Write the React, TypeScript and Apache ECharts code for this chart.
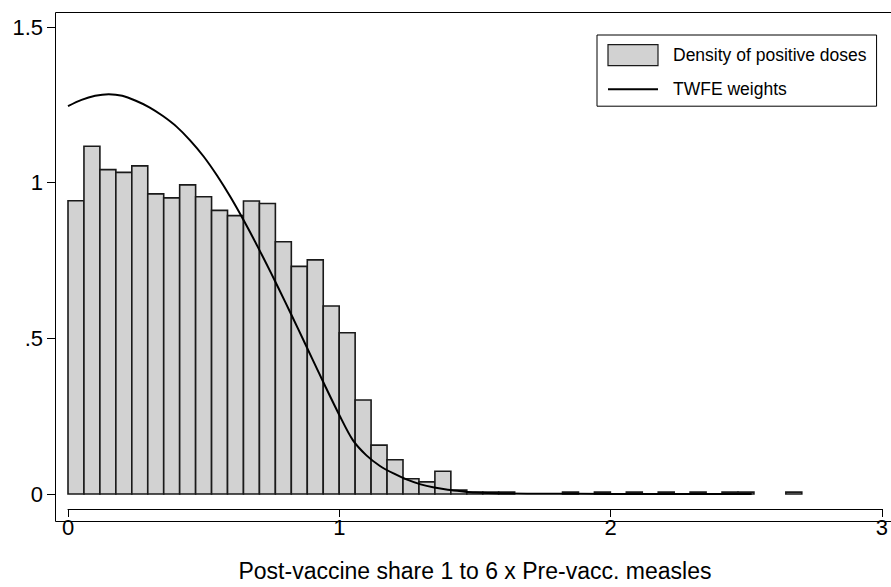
import React, { useEffect, useRef } from "react";
import * as echarts from "echarts";

// Histogram: bin width and densities (bin i covers [i*BIN_WIDTH, (i+1)*BIN_WIDTH])
const BIN_WIDTH = 0.0588;
const DENSITIES: (number | null)[] = [
  0.942, 1.117, 1.042, 1.033, 1.054, 0.964, 0.951, 0.993, 0.955, 0.911,
  0.894, 0.941, 0.933, 0.81, 0.731, 0.752, 0.604, 0.518, 0.302, 0.157,
  0.11, 0.049, 0.039, 0.073, 0.0125, 0.006, 0.006, 0.006, null, null,
  null, 0.006, null, 0.006, null, 0.006, null, 0.006, null, 0.006,
  null, 0.006, 0.006, null, null, 0.006,
];

// TWFE weights curve
const CURVE_X = [
  0.0, 0.05, 0.1, 0.15, 0.2, 0.25, 0.3, 0.35, 0.4, 0.45, 0.5, 0.55, 0.6,
  0.65, 0.7, 0.75, 0.8, 0.85, 0.9, 0.95, 1.0, 1.05, 1.1, 1.15, 1.2, 1.25,
  1.3, 1.35, 1.4, 1.45, 1.5, 1.6, 1.75, 2.0, 2.25, 2.52,
];
const CURVE_Y = [
  1.246, 1.266, 1.279, 1.284, 1.279, 1.263, 1.242, 1.214, 1.18, 1.136, 1.084,
  1.022, 0.952, 0.875, 0.793, 0.707, 0.618, 0.527, 0.435, 0.343, 0.254, 0.173,
  0.124, 0.09, 0.066, 0.046, 0.031, 0.021, 0.014, 0.009, 0.005, 0.002,
  0.001, 0.0003, 0.0001, 0.0,
];

const X_TICKS = [0, 1, 2, 3];
const Y_TICK_LABELS: Record<string, string> = { "0": "0", "0.5": ".5", "1": "1", "1.5": "1.5" };

const FONT = "'Liberation Sans', Arial, Helvetica, sans-serif";
const BAR_FILL = "#d2d2d2";
const BAR_STROKE = "#1a1a1a";

export default function App() {
  const ref = useRef<HTMLDivElement>(null);

  useEffect(() => {
    if (!ref.current) return;
    const chart = echarts.init(ref.current, undefined, { renderer: "svg" });

    const histData = DENSITIES.map((d, i) =>
      d === null ? null : [i * BIN_WIDTH, (i + 1) * BIN_WIDTH, d]
    ).filter((x) => x !== null) as number[][];

    const curveData = CURVE_X.map((x, i) => [x, CURVE_Y[i]]);

    chart.setOption({
      animation: false,
      backgroundColor: "#fff",
      grid: { left: 68, right: 2, top: 27, bottom: 80, containLabel: false },
      xAxis: {
        type: "value",
        min: X_TICKS[0],
        max: X_TICKS[X_TICKS.length - 1],
        interval: 1,
        offset: 15,
        axisLine: { show: true, onZero: false, lineStyle: { color: "#000", width: 1 } },
        axisTick: { show: true, length: 8, lineStyle: { color: "#000", width: 1 } },
        axisLabel: { color: "#000", fontSize: 22, fontFamily: FONT, margin: 7 },
        splitLine: { show: false },
        name: "Post-vaccine share 1 to 6 x Pre-vacc. measles",
        nameLocation: "middle",
        nameGap: 50,
        nameTextStyle: { color: "#000", fontSize: 23, fontFamily: FONT },
      },
      yAxis: {
        type: "value",
        min: 0,
        max: 1.5,
        interval: 0.5,
        offset: 13,
        axisLine: { show: true, onZero: false, lineStyle: { color: "#000", width: 1 } },
        axisTick: { show: true, length: 8, lineStyle: { color: "#000", width: 1 } },
        axisLabel: {
          color: "#000",
          fontSize: 22,
          fontFamily: FONT,
          margin: 12,
          formatter: (v: number) => Y_TICK_LABELS[String(v)] ?? String(v),
        },
        splitLine: { show: false },
      },
      legend: {
        orient: "vertical",
        left: 597,
        top: 35,
        backgroundColor: "#fff",
        borderColor: "#000",
        borderWidth: 1,
        borderRadius: 0,
        padding: [9, 10, 8, 10],
        itemWidth: 50,
        itemHeight: 21,
        itemGap: 14,
        textStyle: { color: "#000", fontSize: 17.5, fontFamily: FONT, padding: [0, 0, 0, 10] },
        data: [
          {
            name: "Density of positive doses",
            icon: "rect",
            itemStyle: { color: BAR_FILL, borderColor: BAR_STROKE, borderWidth: 1.2 },
          },
          {
            name: "TWFE weights",
            itemStyle: { opacity: 0 },
            lineStyle: { color: "#000", width: 2 },
          },
        ],
      },
      graphic: [
        {
          type: "rect",
          z: -1,
          shape: { x: 55.5, y: 12.5, width: 900, height: 509 },
          style: { fill: "none", stroke: "#000", lineWidth: 1 },
          silent: true,
        },
      ],
      series: [
        {
          name: "Density of positive doses",
          type: "custom",
          data: histData,
          encode: { x: [0, 1], y: 2 },
          z: 2,
          itemStyle: { color: BAR_FILL, borderColor: BAR_STROKE, borderWidth: 1.2 },
          renderItem: (_params: any, api: any) => {
            const start = api.value(0);
            const end = api.value(1);
            const dens = api.value(2);
            const p0 = api.coord([start, dens]);
            const p1 = api.coord([end, 0]);
            return {
              type: "rect",
              shape: { x: p0[0], y: p0[1], width: p1[0] - p0[0], height: p1[1] - p0[1] },
              style: { fill: BAR_FILL, stroke: BAR_STROKE, lineWidth: 1.6 },
            };
          },
        },
        {
          name: "TWFE weights",
          type: "line",
          data: curveData,
          symbol: "none",
          showSymbol: false,
          smooth: 0.3,
          z: 3,
          itemStyle: { color: "#000" },
          lineStyle: { color: "#000", width: 2 },
        },
      ],
    });

    return () => chart.dispose();
  }, []);

  return (
    <div
      ref={ref}
      style={{ position: "fixed", left: 0, top: 0, width: 891, height: 587 }}
    />
  );
}
